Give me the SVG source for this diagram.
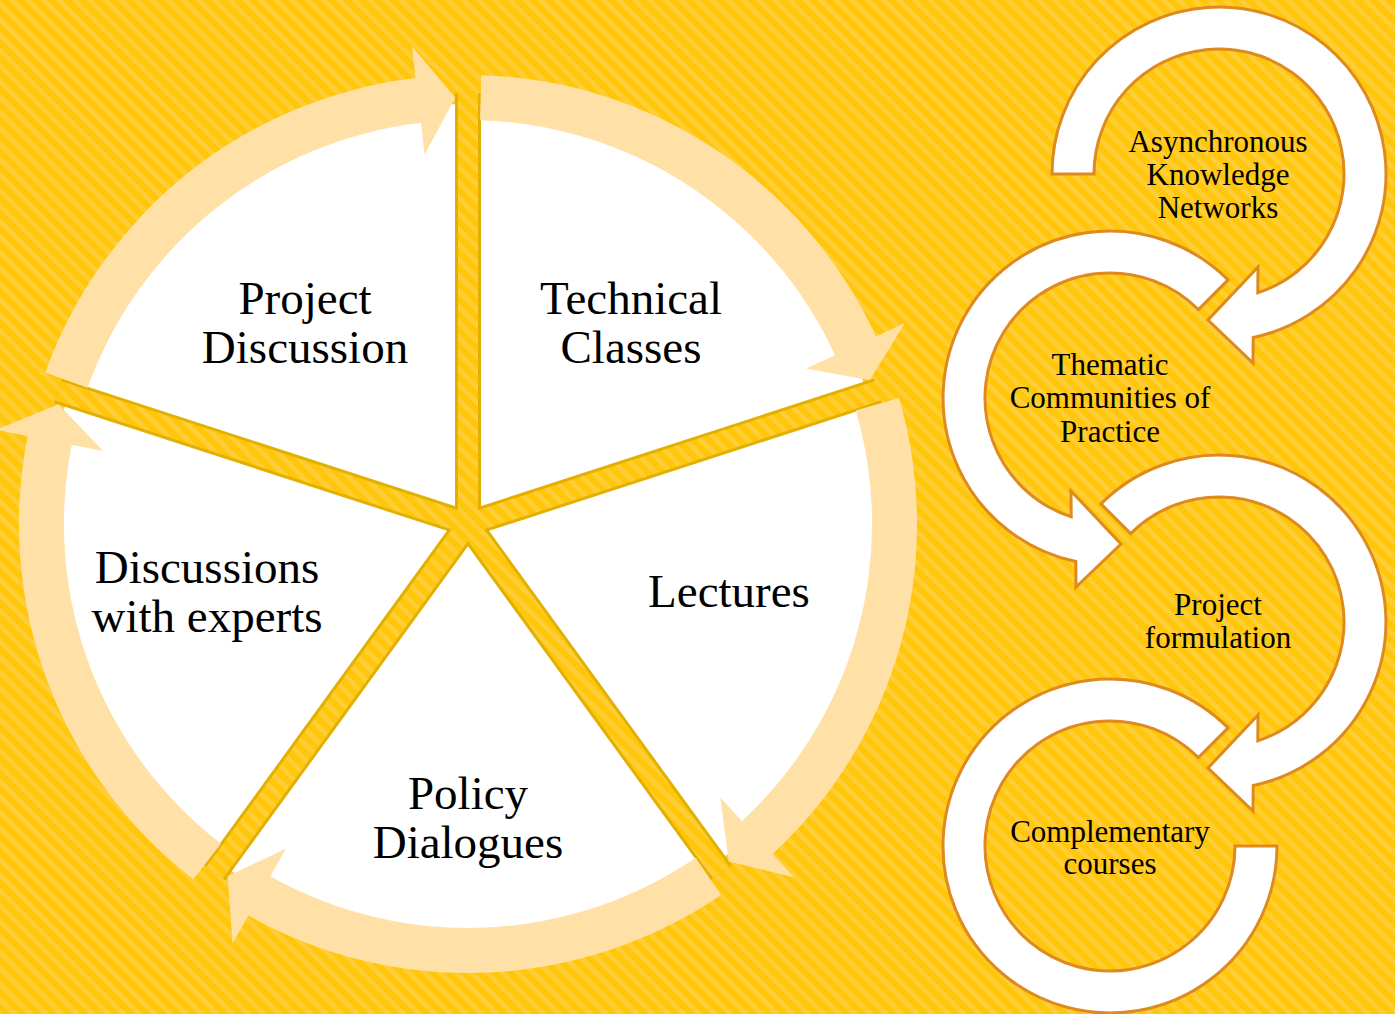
<svg xmlns="http://www.w3.org/2000/svg" width="1395" height="1014" viewBox="0 0 1395 1014">
  <defs>
    <pattern id="stripes" patternUnits="userSpaceOnUse" width="11" height="11" patternTransform="rotate(45)">
      <rect width="11" height="11" fill="#FFC60A"/>
      <rect width="11" height="5" fill="#FFCD35"/>
    </pattern>
  </defs>
  <style>
    .wedge { fill: #FFFFFF; }
    .gapEdge { stroke: #E2B000; stroke-width: 26; fill: none; }
    .gapFill { stroke: url(#stripes); stroke-width: 20; fill: none; }
    .band { fill: #FFE1A8; }
    .ring { fill: #FFFFFF; stroke: #DE8A1E; stroke-width: 3; stroke-linejoin: miter; }
    .big { font-size: 47px; fill: #000; text-anchor: middle; }
    .small { font-size: 31px; fill: #000; text-anchor: middle; }
  </style>

  <rect id="background" x="0" y="0" width="1395" height="1014" fill="url(#stripes)"/>

  <g font-family="'Liberation Serif', 'Times New Roman', 'DejaVu Serif', serif">
  <!-- Pie wedges (nodes) -->
  <g id="node-technical-classes">
    <path class="wedge" d="M468,524 L468,104 A420,420 0 0 1 867.4,394.2 Z"/>
    <text class="big" x="631" y="314">Technical</text>
    <text class="big" x="631" y="363">Classes</text>
  </g>
  <g id="node-lectures">
    <path class="wedge" d="M468,524 L867.4,394.2 A420,420 0 0 1 714.9,863.8 Z"/>
    <text class="big" x="729" y="607">Lectures</text>
  </g>
  <g id="node-policy-dialogues">
    <path class="wedge" d="M468,524 L714.9,863.8 A420,420 0 0 1 221.1,863.8 Z"/>
    <text class="big" x="468" y="809">Policy</text>
    <text class="big" x="468" y="858">Dialogues</text>
  </g>
  <g id="node-discussions-with-experts">
    <path class="wedge" d="M468,524 L221.1,863.8 A420,420 0 0 1 68.6,394.2 Z"/>
    <text class="big" x="207" y="583">Discussions</text>
    <text class="big" x="207" y="632">with experts</text>
  </g>
  <g id="node-project-discussion">
    <path class="wedge" d="M468,524 L68.6,394.2 A420,420 0 0 1 468,104 Z"/>
    <text class="big" x="305" y="314">Project</text>
    <text class="big" x="305" y="363">Discussion</text>
  </g>

  <!-- Gaps between wedges -->
  <g id="gaps">
    <line class="gapEdge" x1="468" y1="524" x2="468" y2="93"/>
    <line class="gapEdge" x1="468" y1="524" x2="877.9" y2="390.8"/>
    <line class="gapEdge" x1="468" y1="524" x2="721.3" y2="872.7"/>
    <line class="gapEdge" x1="468" y1="524" x2="214.7" y2="872.7"/>
    <line class="gapEdge" x1="468" y1="524" x2="58.1" y2="390.8"/>
    <line class="gapFill" x1="468" y1="524" x2="468" y2="93"/>
    <line class="gapFill" x1="468" y1="524" x2="877.9" y2="390.8"/>
    <line class="gapFill" x1="468" y1="524" x2="721.3" y2="872.7"/>
    <line class="gapFill" x1="468" y1="524" x2="214.7" y2="872.7"/>
    <line class="gapFill" x1="468" y1="524" x2="58.1" y2="390.8"/>
  </g>

  <!-- Cycle arrows around the pie -->
  <g id="connectors">
    <path class="band" d="M45.3,372.6 A449,449 0 0 1 415.6,78.1 L411.9,46.3 L455.3,97.7 L424.6,154.5 L420.9,122.8 A404,404 0 0 0 87.6,387.8 Z"/>
    <path class="band" d="M481.3,75.2 A449,449 0 0 1 875.9,336.4 L905,323 L869.5,380.2 L806,368.6 L835,355.2 A404,404 0 0 0 480,120.2 Z"/>
    <path class="band" d="M899,398 A449,449 0 0 1 772.5,854 L794.2,877.5 L728.8,861.5 L720.3,797.4 L742,820.9 A404,404 0 0 0 855.8,410.6 Z"/>
    <path class="band" d="M721,894.9 A449,449 0 0 1 248.3,915.6 L232.6,943.5 L227.7,876.3 L286,848.4 L270.3,876.3 A404,404 0 0 0 695.7,857.7 Z"/>
    <path class="band" d="M193.4,879.3 A449,449 0 0 1 27.7,436 L-3.7,429.7 L58.6,404.3 L103.2,451.1 L71.8,444.8 A404,404 0 0 0 220.9,843.7 Z"/>
  </g>

  <!-- Right-side circular process -->
  <g id="node-asynchronous-knowledge-networks">
    <path class="ring" d="M1052,174 A167,167 0 1 1 1253.2,337.5 L1253,363 L1208,320 L1258,267 L1257.8,292.8 A125,125 0 1 0 1094,174 Z"/>
    <text class="small" x="1218" y="152">Asynchronous</text>
    <text class="small" x="1218" y="185">Knowledge</text>
    <text class="small" x="1218" y="218">Networks</text>
  </g>
  <g id="node-thematic-communities">
    <path class="ring" d="M1228.1,279.9 A167,167 0 1 0 1075.8,561.5 L1076,587 L1121,544 L1071,491 L1071.2,516.8 A125,125 0 1 1 1198.4,309.6 Z"/>
    <text class="small" x="1110" y="375">Thematic</text>
    <text class="small" x="1110" y="408">Communities of</text>
    <text class="small" x="1110" y="442">Practice</text>
  </g>
  <g id="node-project-formulation">
    <path class="ring" d="M1100.9,503.9 A167,167 0 1 1 1253.2,785.5 L1253,811 L1208,768 L1258,715 L1257.8,740.8 A125,125 0 1 0 1130.6,533.6 Z"/>
    <text class="small" x="1218" y="615">Project</text>
    <text class="small" x="1218" y="648">formulation</text>
  </g>
  <g id="node-complementary-courses">
    <path class="ring" d="M1228.1,727.9 A167,167 0 1 0 1277,846 L1235,846 A125,125 0 1 1 1198.4,757.6 Z"/>
    <text class="small" x="1110" y="842">Complementary</text>
    <text class="small" x="1110" y="874">courses</text>
  </g>
  </g>
</svg>
